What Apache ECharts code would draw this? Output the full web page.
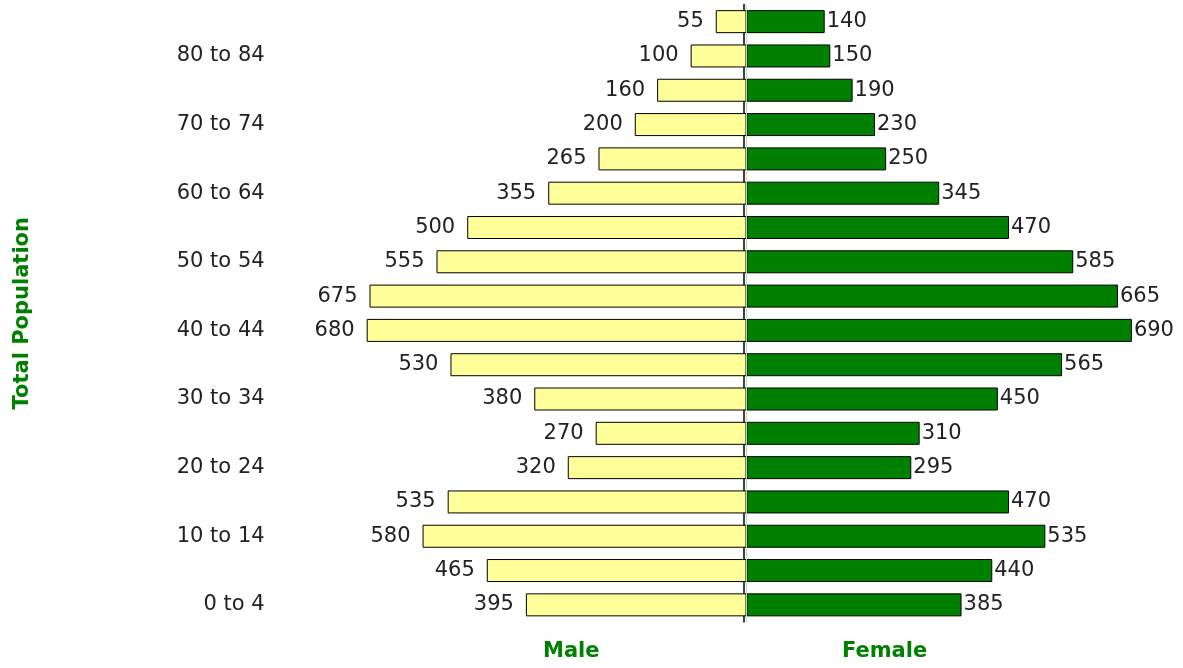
<!DOCTYPE html>
<html>
<head>
<meta charset="utf-8">
<script src="https://cdn.jsdelivr.net/npm/echarts@6/dist/echarts.min.js"></script>
<style>
  html, body { margin: 0; padding: 0; background: #fff; }
  #main { width: 1183px; height: 668px; }
</style>
</head>
<body>
<div id="main"></div>
<script>
// age groups, bottom to top
const ageGroups = ['0 to 4', '5 to 9', '10 to 14', '15 to 19', '20 to 24', '25 to 29',
  '30 to 34', '35 to 39', '40 to 44', '45 to 49', '50 to 54', '55 to 59',
  '60 to 64', '65 to 69', '70 to 74', '75 to 79', '80 to 84', '85+'];
const maleValues = [395, 465, 580, 535, 320, 270, 380, 530, 680, 675, 555, 500, 355, 265, 200, 160, 100, 55];
const femaleValues = [385, 440, 535, 470, 295, 310, 450, 565, 690, 665, 585, 470, 345, 250, 230, 190, 150, 140];

const font = 'DejaVu Sans';
const myChart = echarts.init(document.getElementById('main'));

const option = {
  animation: false,
  grid: { left: 327.6, right: 17.6, top: 4.5, bottom: 46, outerBoundsMode: 'none', containLabel: false },
  xAxis: {
    type: 'value',
    min: -750,
    max: 750,
    show: false
  },
  yAxis: [
    {
      type: 'category',
      data: ageGroups,
      axisLine: { show: false },
      axisTick: { show: false },
      axisLabel: {
        interval: 1,
        margin: 63,
        fontFamily: font,
        fontSize: 21,
        color: '#222'
      },
      name: 'Total Population',
      nameLocation: 'middle',
      nameGap: 295,
      nameTextStyle: {
        fontFamily: font,
        fontSize: 21,
        fontWeight: 'bold',
        color: '#008000'
      }
    },
    {
      // black divider line near the centre
      type: 'category',
      data: ageGroups,
      position: 'left',
      offset: -415.9,
      axisLine: { show: true, onZero: false, lineStyle: { color: '#000', width: 1.5 } },
      axisTick: { show: false },
      axisLabel: { show: false }
    }
  ],
  series: [
    {
      name: 'Male',
      type: 'bar',
      barWidth: 23,
      barGap: '-100%',
      data: maleValues.map(v => -v),
      itemStyle: { color: '#FFFF99', borderColor: '#000', borderWidth: 1 },
      label: {
        show: true,
        position: 'left',
        distance: 12,
        fontFamily: font,
        fontSize: 21,
        color: '#222',
        formatter: p => Math.abs(p.value)
      }
    },
    {
      name: 'Female',
      type: 'bar',
      barWidth: 23,
      data: femaleValues,
      itemStyle: { color: '#008000', borderColor: '#000', borderWidth: 1 },
      label: {
        show: true,
        position: 'right',
        distance: 2,
        fontFamily: font,
        fontSize: 21,
        color: '#222'
      },
      markLine: {
        silent: true,
        symbol: 'none',
        label: { show: false },
        lineStyle: { color: '#b5dfb5', width: 1, type: 'solid' },
        data: [{ xAxis: 0 }]
      }
    }
  ],
  graphic: [
    {
      type: 'text',
      left: 543,
      top: 641,
      style: { text: 'Male', font: 'bold 21px "DejaVu Sans"', fill: '#008000' }
    },
    {
      type: 'text',
      left: 842,
      top: 641,
      style: { text: 'Female', font: 'bold 21px "DejaVu Sans"', fill: '#008000' }
    }
  ]
};
myChart.setOption(option);
</script>
</body>
</html>
